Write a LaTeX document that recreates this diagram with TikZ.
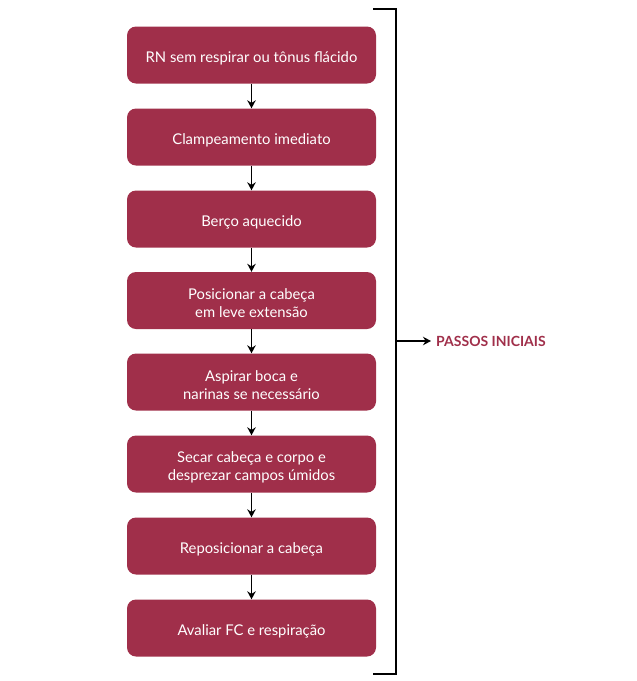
\documentclass[tikz,border=0pt]{standalone}
\usepackage{fontspec}
\setmainfont{Lato}
\usetikzlibrary{arrows.meta}
\definecolor{wine}{HTML}{A02F4A}
\begin{document}
\begin{tikzpicture}[x=1pt,y=-1pt,
  stepbox/.style={fill=wine,draw=none,rounded corners=9pt,minimum width=249pt,minimum height=57pt,inner sep=0pt},
  steptext/.style={text=white,align=center,font=\fontsize{14.8}{18}\selectfont,inner sep=0pt,yshift=-3pt},
  conn/.style={draw=black,line width=1.4pt,-{Stealth[length=8pt,width=8.5pt]}}]
\useasboundingbox (0,0) rectangle (637,681);
\node[stepbox,label={[steptext]center:RN sem respirar ou tônus flácido}] (b1) at (251.5,55) {};
\node[stepbox,label={[steptext]center:Clampeamento imediato}] (b2) at (251.5,137) {};
\node[stepbox,label={[steptext]center:Berço aquecido}] (b3) at (251.5,219) {};
\node[stepbox,label={[steptext]center:Posicionar a cabeça\\em leve extensão}] (b4) at (251.5,300.5) {};
\node[stepbox,label={[steptext]center:Aspirar boca e\\narinas se necessário}] (b5) at (251.5,382) {};
\node[stepbox,label={[steptext]center:Secar cabeça e corpo e\\desprezar campos úmidos}] (b6) at (251.5,464) {};
\node[stepbox,label={[steptext]center:Reposicionar a cabeça}] (b7) at (251.5,546) {};
\node[stepbox,label={[steptext]center:Avaliar FC e respiração}] (b8) at (251.5,628) {};
\foreach \a/\b in {b1/b2,b2/b3,b3/b4,b4/b5,b5/b6,b6/b7,b7/b8}
  \draw[conn] (\a) -- (\b);
\coordinate (bt) at (373,9);
\coordinate (bb) at (373,674);
\coordinate (bm) at (396,341);
\draw[line width=1.6pt] (bt) -| (396,674) -- (bb);
\node[anchor=west,text=wine,font=\bfseries\fontsize{14}{16}\selectfont,inner sep=0pt] (lbl) at (436,341) {PASSOS INICIAIS};
\draw[conn] (bm) -- ([xshift=-5pt]lbl.west);
\end{tikzpicture}
\end{document}
